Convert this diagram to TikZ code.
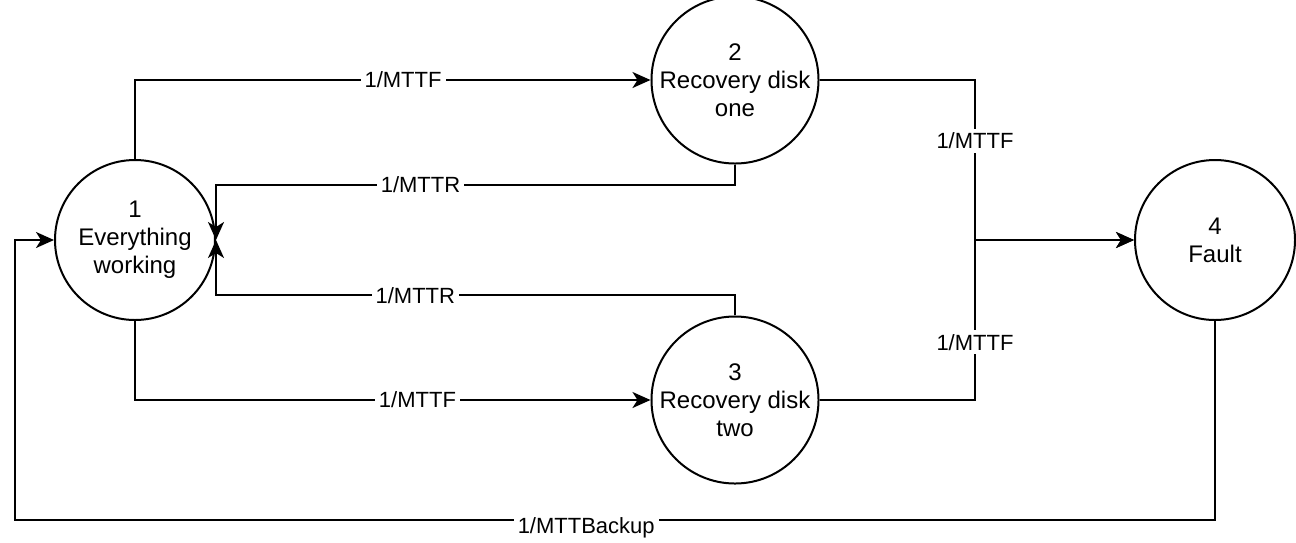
\documentclass[tikz,border=0pt]{standalone}
\usepackage{fontspec}
\setmainfont{Liberation Sans}
\usetikzlibrary{arrows.meta}

\tikzset{every picture/.style={line width=1pt}}
\tikzset{
  stnode/.style={draw, circle, minimum size=80pt, inner sep=0pt, align=center, font=\fontsize{12}{14}\selectfont},
  rate/.style={fill=white, inner sep=2pt, font=\fontsize{11}{13}\selectfont},
  flow/.style={-{Stealth[length=9pt,width=8pt,inset=2.5pt]}}
}

\begin{document}
\begin{tikzpicture}[x=0.5pt,y=0.5pt,yscale=-1,xscale=1]
\useasboundingbox (0,0) rectangle (1296,542);

% States
\node [stnode] (n1) at (135,240) {1\\Everything\\working};
\node [stnode] (n2) at (735,80) {2\\Recovery disk\\one};
\node [stnode] (n3) at (735,400) {3\\Recovery disk\\two};
\node [stnode] (n4) at (1215,240) {4\\Fault};

% Junction points
\coordinate (mj) at (975,240);
\coordinate (bk) at (15,520);

% Failures of the first disk
\draw [flow] (n1.north) |- node [rate, pos=0.76] {1/MTTF} (n2.west);
\draw [flow] (n1.south) |- node [rate, pos=0.774] {1/MTTF} (n3.west);

% Repairs
\draw [flow] (n2.south) -- ++(0,20) -| node [rate, pos=0.303] {1/MTTR} (n1.east);
\draw [flow] (n3.north) -- ++(0,-20) -| node [rate, pos=0.308] {1/MTTR} (n1.east);

% Failures of the second disk
\draw [flow] (n2.east) -| node [rate, pos=0.69] {1/MTTF} (mj) -- (n4.west);
\draw [flow] (n3.east) -| node [rate, pos=0.68] {1/MTTF} (mj) -- (n4.west);

% Restore from backup
\draw [flow] (n4.south) |- node [rate, pos=0.762, yshift=-4pt] {1/MTTBackup} (bk) |- (n1.west);

\end{tikzpicture}
\end{document}
